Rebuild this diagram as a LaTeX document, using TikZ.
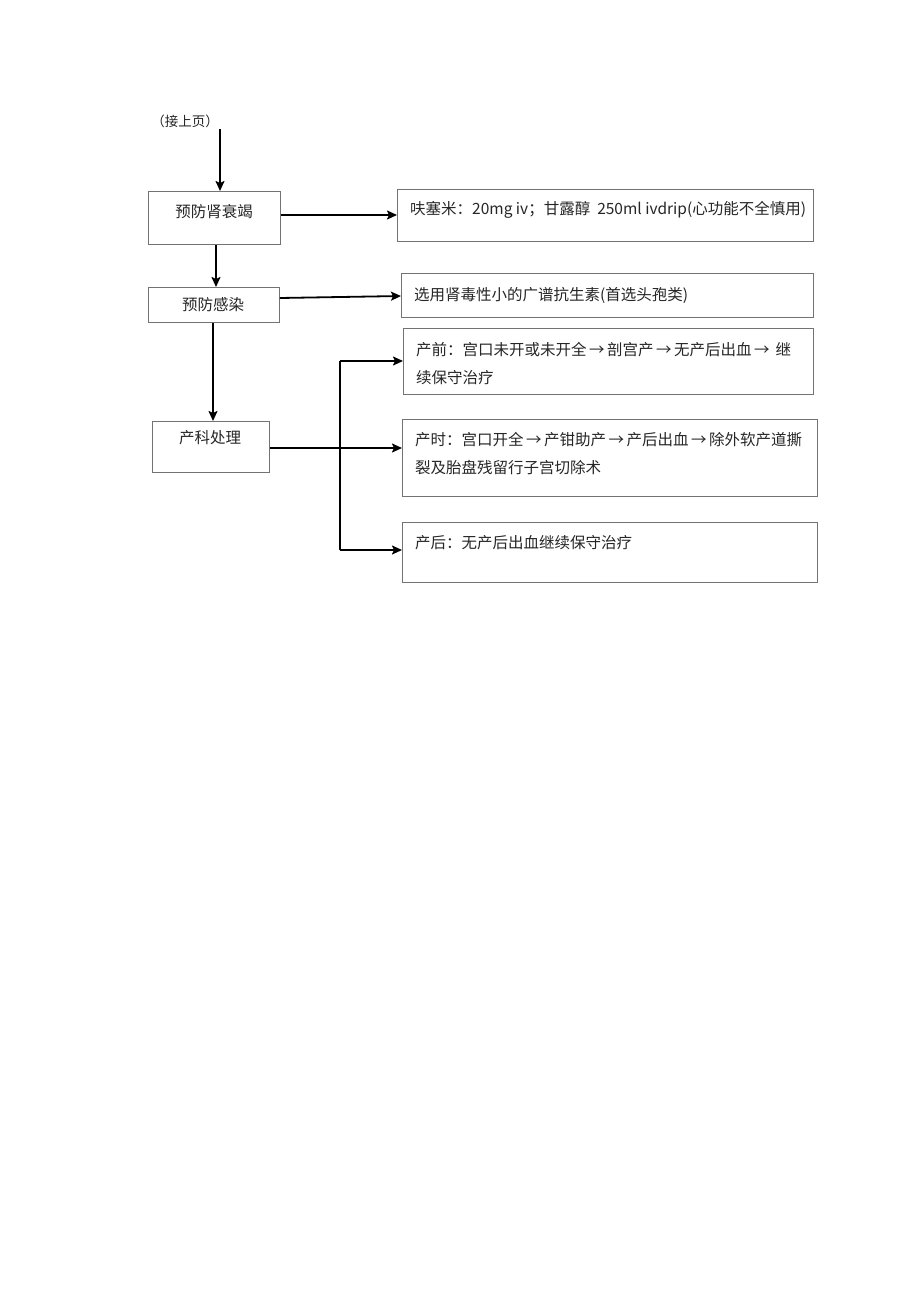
\documentclass[tikz,border=0pt]{standalone}
\usepackage{fontspec}
\setmainfont{Noto Sans CJK SC}
\usetikzlibrary{arrows.meta}
\newcommand{\myarr}{\hspace{2.5pt}→\hspace{2.5pt}}
\begin{document}
\begin{tikzpicture}[x=1pt,y=-1pt,
  box/.style={draw=black!55, line width=0.9pt, rectangle, inner sep=0pt, anchor=north west},
  txt/.style={inner sep=0pt, anchor=north west, align=left, font=\fontsize{15.5}{28}\selectfont, text=black!85},
  ctxt/.style={inner sep=0pt, font=\fontsize{15.5}{18}\selectfont, text=black!85},
  arr/.style={line width=1.8pt, -{Stealth[length=10pt,width=9pt,inset=2pt]}},
  ln/.style={line width=1.8pt}]
\useasboundingbox[fill=white] (0,0) rectangle (920,1301);

% top label
\node[inner sep=0pt, font=\fontsize{13.5}{16}\selectfont, text=black!85] (cont) at (185,121) {（接上页）};
\coordinate (c0) at (220,129);

% left boxes
\node[box, minimum width=132pt, minimum height=53pt] (b1) at (148,191) {};
\node[ctxt] (b1t) at (214,212) {预防肾衰竭};
\node[box, minimum width=131pt, minimum height=35pt] (b2) at (148,287) {};
\node[ctxt] (b2t) at (213,305) {预防感染};
\node[box, minimum width=117pt, minimum height=51pt] (b3) at (152,421) {};
\node[ctxt] (b3t) at (210,438) {产科处理};

% right boxes
\node[box, minimum width=416pt, minimum height=52pt] (r1) at (397,189) {};
\node[txt] (r1t) at ([xshift=13pt,yshift=-12pt]r1.north west) {呋塞米：20mg iv；甘露醇\ \ 250ml ivdrip(心功能不全慎用)};
\node[box, minimum width=412pt, minimum height=44pt] (r2) at (401,273) {};
\node[txt] (r2t) at ([xshift=13pt,yshift=-14pt]r2.north west) {选用肾毒性小的广谱抗生素(首选头孢类)};
\node[box, minimum width=410pt, minimum height=66pt] (r3) at (403,328) {};
\node[txt] (r3t) at ([xshift=13pt,yshift=-14pt]r3.north west) {产前：宫口未开或未开全\myarr 剖宫产\myarr 无产后出血\myarr \ 继\\续保守治疗};
\node[box, minimum width=415pt, minimum height=77pt] (r4) at (402,419) {};
\node[txt] (r4t) at ([xshift=13pt,yshift=-13pt]r4.north west) {产时：宫口开全\myarr 产钳助产\myarr 产后出血\myarr 除外软产道撕\\裂及胎盘残留行子宫切除术};
\node[box, minimum width=415pt, minimum height=60pt] (r5) at (402,522) {};
\node[txt] (r5t) at ([xshift=13pt,yshift=-13pt]r5.north west) {产后：无产后出血继续保守治疗};

% connectors
\draw[arr] (c0) -- (b1.north -| c0);
\draw[arr] (b1.east |- 0,215) -- (r1.west |- 0,215);
\draw[arr] (b1.south -| 216,0) -- (b2.north -| 216,0);
\draw[arr] (b2.east |- 0,298) -- (r2.west |- 0,296);
\draw[arr] (b2.south -| 213,0) -- (b3.north -| 213,0);
\draw[arr] (b3.east |- 0,448) -- (r4.west |- 0,448);
\coordinate (vt) at (340,361);
\coordinate (vb) at (340,550);
\draw[ln] (vt) -- (vb);
\draw[arr] (vt) -- (r3.west |- vt);
\draw[arr] (vb) -- (r5.west |- vb);
\end{tikzpicture}
\end{document}
